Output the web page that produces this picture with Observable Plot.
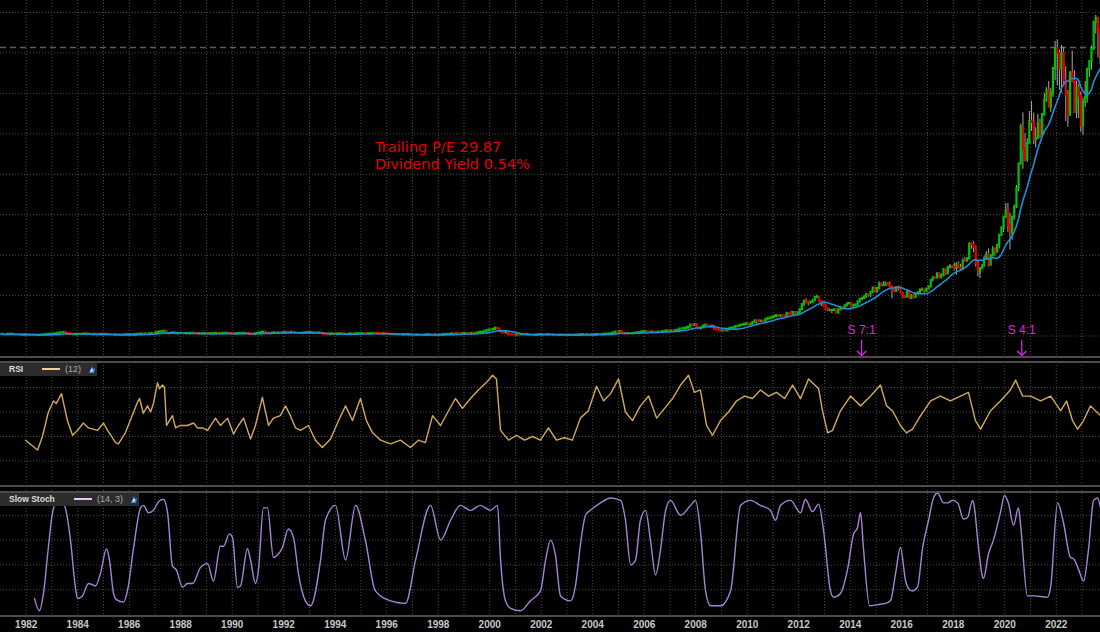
<!DOCTYPE html>
<html><head><meta charset="utf-8">
<script src="https://cdn.jsdelivr.net/npm/d3@7"></script>
<script src="https://cdn.jsdelivr.net/npm/@observablehq/plot@0.6"></script>
<style>
html,body{margin:0;padding:0;background:#000;}
#wrap{position:relative;width:1100px;height:632px;background:#000;overflow:hidden;font-family:"Liberation Sans",Arial,sans-serif;}
.panel{position:absolute;left:0;}
.sep{position:absolute;left:0;width:1100px;height:2px;background:#4c4c4c;}
.leg{position:absolute;left:0;background:#2c2c2c;height:13px;font-size:8.5px;line-height:13px;white-space:nowrap;}
.leg b{position:absolute;color:#ddd;}
.leg i{position:absolute;font-style:normal;color:#aaa;font-size:9px;}
.leg .sw{position:absolute;top:5px;height:2px;}
.ann{position:absolute;left:375px;top:138px;color:#e40000;font-family:"DejaVu Sans",sans-serif;font-size:14.6px;line-height:17px;white-space:nowrap;}
</style></head><body><div id="wrap"></div>
<script>
// ---- monthly closes as drawn (adjusted for the 7:1 and 4:1 splits), Jan 1981 .. Sep 2023 ----
const close1980s = [
1.04,0.96,0.88,1.04,1.04,1.04,0.88,0.80,0.64,0.64,0.64,0.72,
0.64,0.64,0.56,0.56,0.48,0.48,0.48,0.64,0.72,1.04,1.04,1.04,
1.20,1.28,1.60,1.84,2.00,2.24,1.44,1.04,0.88,0.80,0.80,1.04,
1.04,0.96,1.12,1.28,1.04,1.04,0.96,1.04,0.96,0.88,0.88,1.04,
1.04,0.88,0.80,0.72,0.64,0.64,0.56,0.56,0.56,0.64,0.72,0.80,
0.88,0.72,0.88,1.04,1.04,1.28,1.12,1.20,1.12,1.36,1.52,1.44,
2.00,2.40,2.48,2.80,2.88,1.44,1.52,1.72,1.92,1.32,1.44,1.52,
1.48,1.44,1.44,1.48,1.60,1.68,1.52,1.44,1.44,1.36,1.36,1.44,
1.28,1.32,1.36,1.40,1.64,1.44,1.48,1.64,1.64,1.64,1.56,1.24];
const close1990s = [
1.20,1.24,1.44,1.52,1.52,1.60,1.52,1.36,1.04,1.00,1.32,1.52,
1.84,2.24,2.40,1.76,1.64,1.52,1.76,1.88,1.80,1.84,1.72,2.00,
2.28,2.24,2.16,2.24,2.12,1.68,1.60,1.64,1.64,1.84,2.00,2.12,
2.16,1.96,1.92,1.72,1.84,1.44,0.96,0.92,0.84,1.12,1.16,1.04,
1.20,1.28,1.32,1.08,1.08,0.92,1.16,1.24,1.16,1.36,1.36,1.40,
1.44,1.36,1.28,1.40,1.52,1.64,1.60,1.52,1.32,1.28,1.44,1.12,
1.00,0.88,0.88,0.84,0.92,0.76,0.64,0.80,0.80,0.84,0.84,0.76,
0.56,0.56,0.64,0.60,0.56,0.52,0.76,0.80,0.76,0.60,0.64,0.48,
0.64,0.68,0.96,0.96,1.00,1.04,1.28,1.08,1.36,1.32,1.08,1.48,
1.48,1.32,1.28,1.64,1.44,1.64,2.00,2.28,2.32,2.84,3.24,3.68];
const close2000s = [
3.72,4.08,4.84,4.44,3.00,1.88,1.82,2.18,0.92,0.70,0.58,0.54,
0.78,0.66,0.78,0.92,0.72,0.84,0.68,0.66,0.56,0.62,0.76,0.78,
0.88,0.78,0.84,0.86,0.84,0.64,0.54,0.52,0.52,0.58,0.56,0.52,
0.52,0.54,0.50,0.50,0.64,0.68,0.76,0.80,0.74,0.82,0.74,0.76,
0.80,0.86,0.96,0.92,1.00,1.16,1.16,1.24,1.38,1.88,2.40,2.30,
2.74,1.60,1.49,1.29,1.42,1.31,1.52,1.67,1.91,2.06,2.42,2.57,
2.70,2.45,2.24,2.51,2.14,2.05,2.44,2.43,2.75,2.89,3.28,3.03,
3.06,3.02,3.32,3.56,4.33,4.36,4.71,4.95,5.48,6.78,6.51,7.07,
4.84,4.46,5.13,6.21,6.74,5.98,5.68,6.05,4.06,3.84,3.31,3.05,
3.22,3.19,3.75,4.49,4.85,5.09,5.84,6.01,6.62,6.73,7.14,7.53];
const close2010s = [
6.86,7.31,8.39,9.33,9.18,8.98,9.19,8.68,10.13,10.75,11.11,11.52,
12.12,12.61,12.45,12.50,12.42,11.99,13.95,13.74,13.62,14.46,13.65,14.46,
16.30,19.37,21.41,20.86,20.63,20.86,21.81,23.76,23.83,21.26,20.90,19.01,
16.27,15.76,15.81,15.81,16.06,14.16,16.16,17.40,17.03,18.67,19.86,20.04,
17.88,18.79,19.17,21.08,22.61,23.23,23.90,25.63,25.19,27.00,29.73,27.60,
29.29,32.12,31.11,31.29,32.57,31.36,30.33,28.19,27.58,29.88,29.58,26.32,
24.34,24.17,27.25,23.44,24.97,23.90,26.05,26.53,28.26,28.39,27.63,28.96,
30.34,34.25,35.92,35.91,38.19,36.01,37.18,41.00,38.53,42.26,42.96,42.31,
41.86,44.53,41.95,41.32,46.72,46.28,47.57,56.91,56.44,54.72,44.65,39.44,
41.61,43.29,47.49,50.17,43.77,49.48,53.26,52.19,55.99,62.19,66.81,73.41];
const close2020s = [
77.38,68.34,63.57,73.45,79.49,91.20,106.26,129.04,115.81,108.86,119.05,132.69,
131.96,121.26,122.15,131.46,124.61,136.96,145.86,151.83,141.50,149.80,165.30,177.57,
174.78,165.12,174.61,157.65,148.84,136.72,162.51,157.22,138.20,153.34,148.03,129.93,
144.29,147.41,164.90,169.68,177.25,193.97,196.45,187.87,171.21];
// monthly highs / lows from Jan 2010
const high2010s = [
7.70,7.33,8.43,9.73,9.67,9.96,9.46,9.44,10.53,11.44,11.46,11.64,
12.45,13.03,12.65,12.68,12.64,12.47,14.45,14.29,15.10,15.24,14.52,14.52,
16.36,19.56,22.20,23.00,21.31,21.07,22.14,24.32,25.18,23.79,21.40,21.24,
19.82,17.32,16.75,15.89,16.63,16.33,16.29,18.35,18.14,19.17,19.93,20.54,
19.89,19.61,19.61,21.41,23.00,23.76,24.85,25.73,25.93,27.03,29.94,29.83,
30.00,33.40,32.38,33.63,33.24,32.65,33.24,30.65,29.23,30.30,30.95,29.98,
26.46,24.73,27.60,28.10,25.18,25.48,26.15,27.24,29.05,29.68,28.13,29.50,
30.60,34.35,36.13,36.38,39.16,39.00,38.50,41.24,41.13,42.41,44.06,43.57,
45.03,45.16,45.88,44.33,47.59,48.49,48.44,57.22,57.42,58.37,55.72,46.24,
42.25,43.97,49.42,52.12,53.83,50.39,55.34,54.51,56.60,62.44,66.86,73.49];
const high2020s = [
81.96,81.81,76.00,73.63,81.06,93.10,106.40,131.00,137.98,125.39,121.99,138.79,
145.09,137.88,128.72,137.07,134.07,137.41,150.00,153.49,157.26,153.17,165.70,182.13,
182.94,176.65,179.61,178.49,166.48,151.74,163.63,176.15,164.26,157.50,155.45,150.92,
147.23,157.38,165.00,169.85,179.35,194.48,198.23,196.73,189.98];
const low2010s = [
6.79,6.82,7.34,8.31,7.12,8.63,8.56,8.41,8.70,10.04,10.71,11.11,
11.50,12.06,11.65,11.43,11.79,11.09,12.20,12.61,12.86,12.65,12.86,13.36,
14.61,16.20,18.44,19.82,18.65,19.59,20.36,21.51,23.43,20.99,18.06,17.90,
15.54,15.18,14.96,13.75,15.36,13.89,14.06,15.94,16.10,17.09,18.28,19.34,
17.63,17.85,18.48,18.44,21.06,22.45,23.15,23.65,24.03,23.80,26.93,26.58,
26.15,29.03,30.40,30.85,31.18,31.13,29.80,23.00,26.85,26.83,27.85,26.30,
23.10,23.15,24.08,23.13,22.38,22.88,23.48,25.69,25.63,28.08,26.02,27.03,
28.70,31.75,34.26,35.02,36.08,35.55,35.60,37.10,37.29,38.12,41.57,41.62,
40.27,37.56,41.24,40.15,42.56,45.58,45.86,47.30,53.41,51.52,42.57,36.65,
35.50,41.48,43.49,47.10,42.57,43.75,49.70,49.35,51.06,53.78,62.29,64.07];
const low2020s = [
73.19,64.09,53.15,59.22,71.46,79.30,89.14,107.89,103.10,107.72,107.32,120.01,
126.38,118.39,116.21,122.49,122.25,123.13,135.76,144.50,141.27,138.27,147.48,157.80,
154.70,152.00,150.10,155.38,132.61,129.04,135.66,157.14,138.00,134.37,134.38,125.87,
124.17,141.32,143.90,159.78,164.31,177.32,186.60,171.96,167.62];
const lastPrice = 178.4;
const priceTicks = [0,25,50,75,100,125,150,175,200];
const splitYears = [2014.44, 2020.66];
const splitLabels = ["S 7:1", "S 4:1"];
const annotation = ["Trailing P/E 29.87", "Dividend Yield 0.54%"];

// ---- RSI (12) ----
const rsiYear = [1981.97,1982.44,1982.63,1982.86,1983.06,1983.17,1983.37,1983.60,1983.80,1983.99,1984.22,1984.42,1984.77,1985.00,1985.16,1985.47,1985.58,1985.85,1986.32,1986.40,1986.55,1986.71,1986.83,1986.94,1987.10,1987.17,1987.29,1987.37,1987.45,1987.68,1987.80,1987.99,1988.26,1988.50,1988.65,1988.84,1989.04,1989.35,1989.54,1989.82,1990.05,1990.24,1990.44,1990.71,1990.90,1991.17,1991.41,1991.60,1991.87,1992.07,1992.26,1992.46,1992.65,
1992.96,1993.23,1993.50,1993.82,1994.13,1994.40,1994.67,1994.98,1995.21,1995.45,1995.76,1996.15,1996.53,1996.92,1997.23,1997.50,1997.78,1998.09,1998.40,1998.67,1998.94,1999.25,1999.56,1999.87,2000.11,2000.26,2000.42,2000.73,2001.04,2001.35,2001.66,2001.97,2002.28,2002.59,2002.90,2003.21,2003.52,2003.83,2004.15,2004.42,2004.69,2005.00,2005.27,2005.54,2005.85,2006.17,2006.48,2006.79,2007.10,2007.41,2007.72,2007.95,2008.18,2008.42,2008.65,2008.96,2009.27,2009.58,2009.89,2010.20,2010.51,2010.83,2011.14,2011.45,2011.76,2012.07,2012.38,
2012.77,2012.92,2013.12,2013.31,2013.62,2014.01,2014.40,2014.79,2015.17,2015.41,2015.64,2015.95,2016.18,2016.42,2016.73,2017.12,2017.50,2017.89,2018.28,2018.59,2018.86,2019.06,2019.45,2019.83,2020.22,2020.42,2020.69,2021.00,2021.39,2021.78,2022.17,2022.40,2022.63,2022.83,2023.06,2023.33,2023.52,2023.72];
const rsiValue = [37,29,40,60,69,67,75,53,41,45,51,47,45,51,45,35,34,43,68,71,59,65,60,67,84,79,82,80,49,57,47,49,49,51,47,47,45,55,49,55,42,49,55,38,49,72,49,55,57,65,57,47,45,
49,37,31,38,53,65,53,71,53,43,37,34,37,31,37,35,57,49,61,71,63,71,78,84,90,87,45,37,41,37,40,37,47,37,39,37,55,61,81,69,75,87,60,53,65,73,55,63,71,82,90,76,78,49,41,53,60,69,73,71,78,73,76,71,82,71,87,
79,61,43,45,61,73,65,73,82,65,61,49,43,46,57,69,73,69,73,76,53,46,61,69,78,86,73,73,69,73,61,69,53,46,53,65,61,57];

// ---- Slow Stochastic (14, 3) ----
const stochYear = [1982.32,1982.51,1982.67,1982.86,1983.02,1983.14,1983.41,1983.52,1983.72,1983.91,1983.99,1984.18,1984.42,1984.69,1984.88,1985.12,1985.23,1985.39,1985.50,1985.78,1985.93,1986.17,1986.44,1986.55,1986.75,1986.94,1987.14,1987.33,1987.49,1987.68,1987.83,1988.07,1988.26,1988.46,1988.77,1989.04,1989.27,1989.54,1989.66,1989.89,1990.01,1990.20,1990.32,1990.59,1990.71,1990.90,1991.02,1991.21,1991.37,1991.60,1991.76,1991.95,1992.18,1992.38,1992.57,
1992.84,1993.04,1993.43,1993.62,1994.01,1994.40,1994.79,1995.17,1995.56,1996.15,1996.73,1997.12,1997.70,1998.09,1998.48,1998.86,1999.25,1999.64,2000.03,2000.30,2000.42,2000.61,2000.81,2001.19,2001.58,2001.97,2002.17,2002.36,2002.55,2002.75,2003.14,2003.33,2003.52,2003.72,2003.91,2004.30,2004.69,2005.08,2005.27,2005.47,2005.66,2005.85,2006.05,2006.24,2006.44,2006.63,2006.83,2007.02,2007.41,2007.80,2007.99,2008.18,2008.38,2008.57,2008.96,2009.35,2009.74,2010.13,2010.51,2010.90,2011.10,2011.29,2011.68,
2012.07,2012.26,2012.53,2012.77,2012.96,2013.23,2013.35,2013.62,2013.89,2014.13,2014.28,2014.40,2014.51,2014.75,2015.06,2015.37,2015.56,2015.76,2015.95,2016.15,2016.26,2016.42,2016.61,2016.81,2017.04,2017.23,2017.39,2017.62,2017.78,2017.97,2018.17,2018.40,2018.55,2018.75,2018.79,2018.98,2019.14,2019.17,2019.37,2019.56,2019.83,2019.99,2020.14,2020.34,2020.53,2020.61,2020.88,2021.12,2021.66,2021.78,2022.05,2022.28,2022.55,2022.67,2022.87,2023.06,2023.25,2023.45,2023.60,2023.72];
const stochValue = [13,3,17,54,82,89,90,86,60,22,13,15,25,23,33,53,44,17,12,10,19,54,86,88,82,84,91,93,82,39,36,22,25,25,38,41,27,55,55,65,62,22,23,53,44,25,36,86,86,46,48,54,69,62,33,
11,7,44,76,88,44,88,60,19,11,9,44,88,60,76,88,84,88,84,88,44,11,5,3,11,19,44,60,48,15,11,23,56,80,84,90,94,92,76,40,44,76,84,60,32,52,84,92,80,88,92,68,19,7,7,19,88,92,88,84,76,88,92,
82,93,83,89,68,19,14,17,36,65,70,82,54,7,8,9,11,33,54,27,21,19,22,54,76,94,98,90,90,92,90,77,78,92,90,54,30,29,49,60,82,96,90,72,86,73,15,15,14,22,90,74,46,45,36,27,52,92,94,86];
const oscTicks = [20,40,60,80];

// ---- helpers ----
function yearToDate(y){const yr=Math.floor(y);const a=Date.UTC(yr,0,1),b=Date.UTC(yr+1,0,1);return new Date(a+(y-yr)*(b-a));}
const xDomain = [new Date(Date.UTC(1981,0,1)), new Date(Date.UTC(2023,8,20))];
const yearGrid = d3.range(1982,2024).map(y=>new Date(Date.UTC(y,0,1)));
const evenYears = d3.range(1982,2024,2).map(y=>new Date(Date.UTC(y,0,1)));

const closes = [...close1980s,...close1990s,...close2000s,...close2010s,...close2020s];
const highs = [...high2010s,...high2020s];
const lows = [...low2010s,...low2020s];
const hlStart = 29*12;
const candles = closes.map((c,i)=>({
  date:new Date(Date.UTC(1981,i,15)),
  open: i>0 ? closes[i-1] : c,
  close:c,
  high: i>=hlStart ? highs[i-hlStart] : null,
  low: i>=hlStart ? lows[i-hlStart] : null
}));
const rsi = rsiYear.map((y,i)=>({date:yearToDate(y), value:rsiValue[i]}));
const stoch = stochYear.map((y,i)=>({date:yearToDate(y), value:stochValue[i]}));
const splits = splitYears.map((y,i)=>({date:yearToDate(y), label:splitLabels[i]}));

const gridStyle = {stroke:"#4a4a4a", strokeDasharray:"1,2", strokeWidth:1};
const wrap = document.getElementById("wrap");
function place(svg, top){const d=document.createElement("div");d.className="panel";d.style.top=top+"px";d.appendChild(svg);wrap.appendChild(d);}

// ---- main price panel ----
const main = Plot.plot({
  width:1100, height:356, margin:0,
  style:{background:"transparent", overflow:"visible"},
  x:{type:"utc", domain:xDomain, axis:null},
  y:{domain:[0,200], range:[335.5,12], axis:null},
  color:{type:"identity"},
  marks:[
    Plot.ruleX(yearGrid, gridStyle),
    Plot.ruleY(priceTicks, gridStyle),
    Plot.ruleY([lastPrice], {stroke:"#5c5c5c", strokeDasharray:"6,4", strokeWidth:1.5}),
    Plot.ruleX(candles.filter(d=>d.high!=null), {x:"date", y1:"low", y2:"high", stroke:"#a8a8a8", strokeWidth:1}),
    Plot.ruleX(candles, {x:"date", y1:"open", y2:"close", stroke:d=>d.close>=d.open?"#00c000":"#e00000", strokeWidth:2.2, strokeLinecap:"square"}),
    Plot.lineY(candles, Plot.windowY({k:12, anchor:"end", reduce:"mean"}, {x:"date", y:"close", stroke:"#1f8fd6", strokeWidth:1.6})),
    Plot.text(splits, {x:"date", text:"label", frameAnchor:"bottom", dy:-23, fill:"#e020e0", fontSize:12, fontFamily:"Liberation Sans, Arial, sans-serif"}),
    Plot.vector(splits, {x:"date", frameAnchor:"bottom", dy:-1, length:15, rotate:180, anchor:"end", stroke:"#e020e0", strokeWidth:1.3, r:5})
  ]
});
place(main, 0);

// ---- RSI panel ----
const rsiPlot = Plot.plot({
  width:1100, height:123, margin:0,
  style:{background:"transparent", overflow:"visible"},
  x:{type:"utc", domain:xDomain, axis:null},
  y:{domain:[0,100], range:[123,0.5], axis:null},
  marks:[
    Plot.ruleX(yearGrid, gridStyle),
    Plot.ruleY(oscTicks, gridStyle),
    Plot.line(rsi, {x:"date", y:"value", stroke:"#d2a95c", strokeWidth:1.4})
  ]
});
place(rsiPlot, 362);

// ---- Slow Stoch panel + time axis ----
const stochPlot = Plot.plot({
  width:1100, height:141, marginTop:0, marginLeft:0, marginRight:0, marginBottom:17,
  style:{background:"transparent", overflow:"visible"},
  x:{type:"utc", domain:xDomain},
  y:{domain:[0,100], range:[123,-1], axis:null},
  marks:[
    Plot.ruleX(yearGrid, {...gridStyle, y1:0, y2:100}),
    Plot.ruleY(oscTicks, gridStyle),
    Plot.line(stoch, {x:"date", y:"value", stroke:"#a584d6", strokeWidth:1.4, curve:"monotone-x"}),
    Plot.axisX(evenYears, {tickSize:0, tickPadding:5, tickFormat:"%Y", fill:"#c8c8c8", fontSize:10, fontWeight:"bold", fontFamily:"Liberation Sans, Arial, sans-serif", label:null})
  ]
});
place(stochPlot, 491);

// annotation text
const ann=document.createElement("div");ann.className="ann";ann.innerHTML=annotation.join("<br>");wrap.appendChild(ann);

// separators
[355.5, 361, 485, 490.5, 614.5].forEach(t=>{const s=document.createElement("div");s.className="sep";s.style.top=t+"px";wrap.appendChild(s);});

// legends
function legend(top, width, name, swColor, swX, param, paramX, iconX){
  const d=document.createElement("div");d.className="leg";d.style.top=top+"px";d.style.width=width+"px";
  d.innerHTML=`<b style="left:9px">${name}</b><span class="sw" style="left:${swX}px;width:18px;background:${swColor}"></span><i style="left:${paramX}px">${param}</i>`+
   `<svg style="position:absolute;left:${iconX}px;top:2px" width="8" height="9" viewBox="0 0 8 9"><path d="M1 8 L4 1 L5 4 L7 3 L6 8 Z" fill="#3c8fe0"/><path d="M2 7 L4 3 L5 6 Z" fill="#e8f2ff"/></svg>`;
  wrap.appendChild(d);
}
legend(363, 97, "RSI", "#f2cf98", 42, "(12)", 65, 88);
legend(493, 139, "Slow Stoch", "#e6c6f2", 74, "(14, 3)", 97, 130);
</script>
</body></html>
